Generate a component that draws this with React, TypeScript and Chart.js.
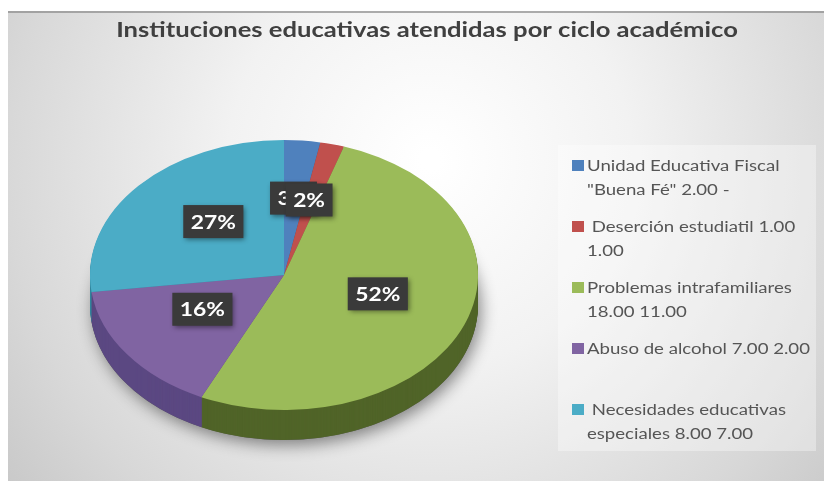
import React, { useEffect, useRef } from 'react';
import { Chart, registerables } from 'chart.js';

Chart.register(...registerables);

// ---- data ----
const titleText = 'Instituciones educativas atendidas por ciclo académico';
const legendLines: string[][] = [
  ['Unidad Educativa Fiscal', '"Buena Fé" 2.00 -'],
  [' Deserción estudiatil 1.00', '1.00'],
  ['Problemas intrafamiliares', '18.00 11.00'],
  ['Abuso de alcohol 7.00 2.00', ''],
  [' Necesidades educativas', 'especiales 8.00 7.00'],
];
const categories = legendLines.map((l) => l.join(' ').trim());
const percentages = [3, 2, 52, 16, 27];
const topColors = ['#4f81bd', '#c0504d', '#9bbb59', '#8064a2', '#4bacc6'];
const sideColors = ['#385d8a', '#8c3836', '#506428', '#5b4882', '#31859c'];

// ---- geometry of the tilted pie ----
const CX = 284;
const CY = 275;
const RX = 194;
const RY = 135;
const DEPTH = 30;
const LABEL_F = 0.52;
const LABEL_DY = -7;
const STRETCH = 1.28; // the reference image is widened horizontally

function applyTilt(ctx: CanvasRenderingContext2D, cx: number, cy: number, r: number, dy: number) {
  ctx.translate(CX, CY + dy);
  ctx.scale(RX / r, RY / r);
  ctx.translate(-cx, -cy);
}

function stretchedText(
  ctx: CanvasRenderingContext2D,
  text: string,
  x: number,
  y: number,
  align: CanvasTextAlign,
  sx: number
) {
  ctx.save();
  ctx.translate(x, y);
  ctx.scale(sx, 1);
  ctx.textAlign = align;
  ctx.fillText(text, 0, 0);
  ctx.restore();
}

const backgroundPlugin = {
  id: 'panelBg',
  beforeDraw(chart: any) {
    const ctx: CanvasRenderingContext2D = chart.ctx;
    ctx.save();
    ctx.fillStyle = '#ffffff';
    ctx.fillRect(0, 0, chart.width, chart.height);
    const g = ctx.createRadialGradient(430, 160, 10, 430, 170, 560);
    g.addColorStop(0, '#ffffff');
    g.addColorStop(0.35, '#f2f2f2');
    g.addColorStop(0.75, '#d8d8d8');
    g.addColorStop(1, '#c4c4c4');
    ctx.fillStyle = g;
    ctx.fillRect(8, 11, 816, 470);
    ctx.fillStyle = 'rgba(140,140,140,0.7)';
    ctx.fillRect(8, 11, 816, 2);
    // legend background
    ctx.fillStyle = 'rgba(255,255,255,0.35)';
    ctx.fillRect(558, 145, 258, 306);
    // title
    ctx.fillStyle = '#404040';
    ctx.font = 'bold 20px Lato';
    ctx.textBaseline = 'middle';
    stretchedText(ctx, titleText, 427, 31, 'center', STRETCH);
    ctx.restore();
  },
};

const pie3dPlugin = {
  id: 'pie3d',
  beforeDatasetsDraw(chart: any) {
    const arcs = chart.getDatasetMeta(0).data as any[];
    if (!arcs.length) return;
    const ctx: CanvasRenderingContext2D = chart.ctx;
    const { x: cx, y: cy, outerRadius: r } = arcs[0];
    // soft shadow under the pie
    ctx.save();
    applyTilt(ctx, cx, cy, r, DEPTH);
    ctx.shadowColor = 'rgba(0,0,0,0.45)';
    ctx.shadowBlur = 16;
    ctx.shadowOffsetY = 5;
    ctx.shadowOffsetX = 3;
    ctx.fillStyle = '#555555';
    ctx.beginPath();
    ctx.arc(cx, cy, r, 0, Math.PI * 2);
    ctx.fill();
    ctx.restore();
    // side walls
    for (let dy = DEPTH; dy >= 1; dy--) {
      ctx.save();
      applyTilt(ctx, cx, cy, r, dy);
      arcs.forEach((arc, i) => {
        const { startAngle, endAngle } = arc.getProps(['startAngle', 'endAngle'], true);
        ctx.beginPath();
        ctx.moveTo(cx, cy);
        ctx.arc(cx, cy, r, startAngle, endAngle);
        ctx.closePath();
        ctx.fillStyle = sideColors[i];
        ctx.fill();
      });
      ctx.restore();
    }
  },
  beforeDatasetDraw(chart: any) {
    const arcs = chart.getDatasetMeta(0).data as any[];
    const ctx: CanvasRenderingContext2D = chart.ctx;
    ctx.save();
    if (arcs.length) {
      const { x: cx, y: cy, outerRadius: r } = arcs[0];
      applyTilt(ctx, cx, cy, r, 0);
    }
  },
  afterDatasetDraw(chart: any) {
    chart.ctx.restore();
  },
  afterDatasetsDraw(chart: any) {
    const arcs = chart.getDatasetMeta(0).data as any[];
    const ctx: CanvasRenderingContext2D = chart.ctx;
    const values = chart.data.datasets[0].data as number[];
    const total = values.reduce((a, b) => a + b, 0);
    arcs.forEach((arc, i) => {
      const { startAngle, endAngle } = arc.getProps(['startAngle', 'endAngle'], true);
      const mid = (startAngle + endAngle) / 2;
      const X = CX + Math.cos(mid) * LABEL_F * RX + (i === 4 ? 5 : 0);
      const Y = CY + Math.sin(mid) * LABEL_F * RY + LABEL_DY;
      const text = Math.round((values[i] / total) * 100) + '%';
      ctx.save();
      ctx.font = 'bold 19px Lato';
      const w = ctx.measureText(text).width * 1.2 + 15;
      const h = 33;
      ctx.shadowColor = 'rgba(0,0,0,0.45)';
      ctx.shadowBlur = 5;
      ctx.shadowOffsetX = 2;
      ctx.shadowOffsetY = 2;
      ctx.fillStyle = '#3a3a3a';
      ctx.fillRect(X - w / 2, Y - h / 2, w, h);
      ctx.shadowColor = 'transparent';
      ctx.fillStyle = '#ffffff';
      ctx.textBaseline = 'middle';
      stretchedText(ctx, text, X, Y + 1, 'center', 1.2);
      ctx.restore();
    });
  },
};

const legendPlugin = {
  id: 'sideLegend',
  afterDraw(chart: any) {
    const ctx: CanvasRenderingContext2D = chart.ctx;
    const colors = chart.data.datasets[0].backgroundColor as string[];
    ctx.save();
    ctx.font = '15.5px Lato';
    ctx.textBaseline = 'middle';
    legendLines.forEach((lines, i) => {
      const y0 = 165.5 + i * 61;
      ctx.fillStyle = colors[i];
      ctx.fillRect(572, y0 - 5.5, 12, 11);
      ctx.fillStyle = '#555555';
      lines.forEach((line, j) => {
        stretchedText(ctx, line, 587, y0 + j * 24.5, 'left', 1.2);
      });
    });
    ctx.restore();
  },
};

export default function App() {
  const canvasRef = useRef<HTMLCanvasElement | null>(null);

  useEffect(() => {
    const canvas = canvasRef.current;
    if (!canvas) return;
    const chart = new Chart(canvas, {
      type: 'pie',
      data: {
        labels: categories,
        datasets: [
          {
            data: percentages,
            backgroundColor: topColors,
            borderWidth: 0,
            clip: false as any,
          } as any,
        ],
      },
      options: {
        responsive: false,
        animation: false,
        events: [],
        layout: { padding: { left: 30, right: 260, top: 60, bottom: 40 } },
        plugins: {
          legend: { display: false },
          tooltip: { enabled: false },
          title: { display: false },
        },
      },
      plugins: [backgroundPlugin, pie3dPlugin, legendPlugin],
    });
    return () => chart.destroy();
  }, []);

  return (
    <div style={{ position: 'fixed', left: 0, top: 0, width: 824, height: 481 }}>
      <canvas ref={canvasRef} width={824} height={481} />
    </div>
  );
}
